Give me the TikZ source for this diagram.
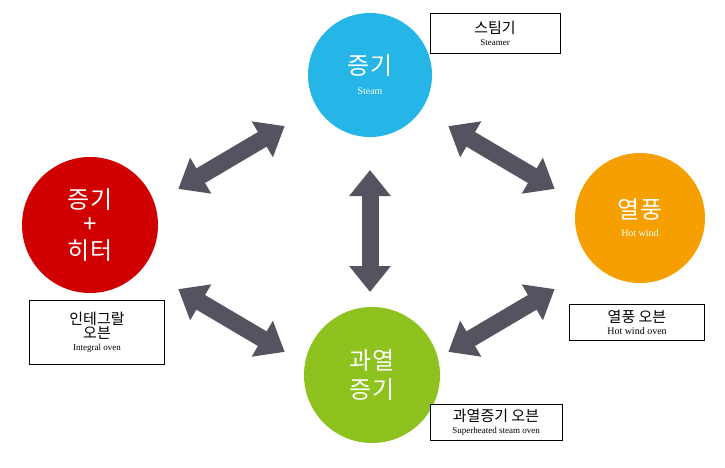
\documentclass[tikz,border=0pt]{standalone}
\usepackage{fontspec}
\setmainfont{Liberation Serif}
\newfontfamily\kr{Noto Sans CJK KR}
\usetikzlibrary{arrows.meta,positioning}
\definecolor{steamblue}{HTML}{25B5E6}
\definecolor{heatred}{HTML}{D00000}
\definecolor{windorange}{HTML}{F5A000}
\definecolor{supergreen}{HTML}{8DC21F}
\definecolor{arrowgray}{HTML}{56525F}
\tikzset{
  ball/.style={circle,minimum size=#1,text=white,align=center,inner sep=0pt},
  fatarrow/.style={draw=arrowgray,line width=17pt,
    {Triangle[width=40pt,length=26pt]}-{Triangle[width=40pt,length=26pt]},
    shorten <=12pt,shorten >=12pt},
  tagbox/.style={draw,thick,align=center,inner sep=2pt,fill=white},
}
\newcommand{\krbig}{\kr\fontsize{24}{28}\selectfont}
\newcommand{\krmid}{\kr\fontsize{15}{17}\selectfont}
\begin{document}
\begin{tikzpicture}[x=1pt,y=-1pt]
\useasboundingbox[fill=white] (0,0) rectangle (725,467);
%
  \node[ball=124pt,fill=steamblue] (steam) at (370,75)
    {{\krbig 증기}\\[8pt]{\fontsize{10}{11}\selectfont Steam}};
  \node[ball=136pt,fill=heatred] (combo) at (90,225)
    {{\krbig 증기}\\[6pt]{\krbig +}\\[6pt]{\krbig 히터}};
  \node[ball=130pt,fill=windorange] (wind) at (640,218)
    {{\krbig 열풍}\\[6pt]{\fontsize{10}{11}\selectfont Hot wind}};
  \node[ball=136pt,fill=supergreen] (super) at (372,375)
    {{\krbig 과열}\\[6pt]{\krbig 증기}};
%
  \coordinate (tl) at (168,195); \coordinate (tlb) at (295,120);
  \coordinate (tr) at (438,120); \coordinate (trb) at (565,195);
  \coordinate (bl) at (168,283); \coordinate (blb) at (295,358);
  \coordinate (br) at (438,358); \coordinate (brb) at (565,283);
  \coordinate (ct) at (370,158); \coordinate (cb) at (370,304);
%
  \draw[fatarrow] (tl) -- (tlb);
  \draw[fatarrow] (tr) -- (trb);
  \draw[fatarrow] (bl) -- (blb);
  \draw[fatarrow] (br) -- (brb);
  \draw[fatarrow] (ct) -- (cb);
%
  \node[tagbox,minimum width=130pt,minimum height=40pt] (steamtag) at (495,33)
    {{\krmid 스팀기}\\{\fontsize{9}{10}\selectfont Steamer}};
  \node[tagbox,minimum width=135pt,minimum height=64pt] (combotag) at (97,332)
    {{\krmid 인테그랄}\\{\krmid 오븐}\\{\fontsize{9}{10}\selectfont Integral oven}};
  \node[tagbox,minimum width=135pt,minimum height=36pt] (windtag) at (637,322)
    {{\krmid 열풍 오븐}\\{\fontsize{10}{11}\selectfont Hot wind oven}};
  \node[tagbox,minimum width=132pt,minimum height=36pt] (supertag) at (496,422)
    {{\krmid 과열증기 오븐}\\{\fontsize{9}{10}\selectfont Superheated steam oven}};
%
\end{tikzpicture}
\end{document}
